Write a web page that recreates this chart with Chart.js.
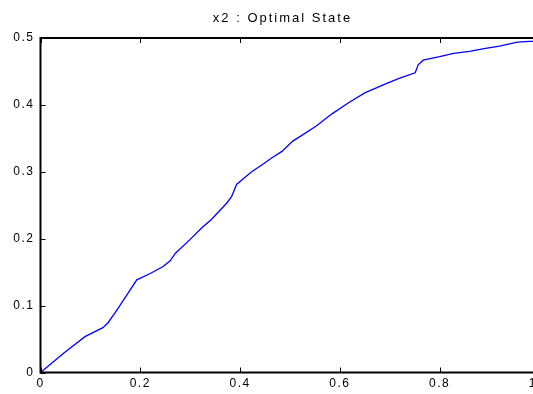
<!DOCTYPE html>
<html>
<head>
<meta charset="utf-8">
<script src="https://cdn.jsdelivr.net/npm/chart.js@4"></script>
<style>
  html, body { margin: 0; padding: 0; background: #fff; overflow: hidden; }
  #wrap { width: 554px; height: 394px; }
</style>
</head>
<body>
<div id="wrap"><canvas id="x2chart" width="554" height="394"></canvas></div>
<script>
// x2 optimal state
const timeValues = [0, 0.05, 0.09, 0.125, 0.135, 0.15, 0.167, 0.193, 0.22, 0.245, 0.26, 0.27, 0.3, 0.323, 0.343, 0.373, 0.383, 0.393, 0.41, 0.424, 0.445, 0.464, 0.484, 0.505, 0.523, 0.552, 0.585, 0.619, 0.65, 0.687, 0.72, 0.751, 0.757, 0.767, 0.8, 0.828, 0.86, 0.889, 0.92, 0.956, 0.98, 1.0];
const stateValues = [0, 0.031, 0.054, 0.067, 0.074, 0.09, 0.109, 0.1385, 0.148, 0.158, 0.167, 0.178, 0.199, 0.216, 0.229, 0.253, 0.263, 0.281, 0.292, 0.3006, 0.311, 0.321, 0.3305, 0.3455, 0.354, 0.368, 0.387, 0.404, 0.418, 0.43, 0.44, 0.448, 0.46, 0.4668, 0.472, 0.477, 0.48, 0.484, 0.488, 0.4937, 0.495, 0.495];
const xTicks = [0, 0.2, 0.4, 0.6, 0.8, 1];
const yTicks = [0, 0.1, 0.2, 0.3, 0.4, 0.5];
const chartTitle = "x2 : Optimal State";

const colors = {
  line: "rgb(0, 0, 255)",
  frame: "rgb(0, 0, 0)",
  text: "rgb(0, 0, 0)",
};

// matlab style spaced text
const spacedText = {
  id: "spacedText",
  beforeUpdate: (chart) => { chart.ctx.letterSpacing = "1.5px"; },
  afterLayout: (chart) => {
    const t = chart.titleBlock;
    if (!t) return;
    if (!t._spaced) {
      const orig = t.draw.bind(t);
      t.draw = () => {
        chart.ctx.letterSpacing = "2px";
        orig();
        chart.ctx.letterSpacing = "1.5px";
      };
      t._spaced = true;
    }
    // title sits a bit left of the axes centre in the original
    t.left = 28;
    t.right = 537;
  },
  beforeDraw: (chart) => { chart.ctx.letterSpacing = "1.5px"; },
};

// box round the axes with ticks pointing inwards on all four sides
const matlabFrame = {
  id: "matlabFrame",
  afterDraw: (chart) => {
    const ctx = chart.ctx;
    const area = chart.chartArea;
    const xs = chart.scales.x;
    const ys = chart.scales.y;
    const len = 5;
    ctx.save();
    ctx.strokeStyle = colors.frame;
    ctx.lineWidth = 1;
    ctx.beginPath();
    xTicks.forEach((v) => {
      const px = Math.round(xs.getPixelForValue(v)) + 0.5;
      ctx.moveTo(px, area.bottom);
      ctx.lineTo(px, area.bottom - len);
      ctx.moveTo(px, area.top);
      ctx.lineTo(px, area.top + len);
    });
    yTicks.forEach((v) => {
      const py = Math.round(ys.getPixelForValue(v)) + 0.5;
      ctx.moveTo(area.left, py);
      ctx.lineTo(area.left + len, py);
      ctx.moveTo(area.right, py);
      ctx.lineTo(area.right - len, py);
    });
    ctx.stroke();
    ctx.lineWidth = 2;
    ctx.strokeRect(area.left, area.top, area.right - area.left, area.bottom - area.top);
    ctx.restore();
  },
};

const points = timeValues.map((t, i) => ({ x: t, y: stateValues[i] }));

const config = {
  type: "line",
  data: {
    datasets: [
      {
        label: "x2",
        data: points,
        borderColor: colors.line,
        borderWidth: 1.3,
        pointRadius: 0,
        tension: 0,
        fill: false,
      },
    ],
  },
  options: {
    responsive: false,
    animation: false,
    devicePixelRatio: 1,
    layout: {
      padding: { left: 0, right: 10, top: 0, bottom: 0 },
    },
    plugins: {
      legend: { display: false },
      tooltip: { enabled: false },
      title: {
        display: true,
        text: chartTitle,
        color: colors.text,
        font: { family: "'Liberation Sans', Arial, sans-serif", size: 13, weight: "normal", lineHeight: 1.2 },
        padding: { top: 10.2, bottom: 12.2 },
      },
    },
    scales: {
      x: {
        type: "linear",
        min: 0,
        max: 1,
        afterFit: (s) => { s.height = 21.5; },
        afterBuildTicks: (s) => { s.ticks = xTicks.map((v) => ({ value: v })); },
        grid: { display: false, drawTicks: false },
        border: { display: false },
        ticks: {
          color: colors.text,
          padding: 4,
          maxRotation: 0,
          autoSkip: false,
          font: { family: "'Liberation Sans', Arial, sans-serif", size: 12 },
        },
      },
      y: {
        type: "linear",
        min: 0,
        max: 0.5,
        afterFit: (s) => { s.width = 40.5; },
        afterBuildTicks: (s) => { s.ticks = yTicks.map((v) => ({ value: v })); },
        grid: { display: false, drawTicks: false },
        border: { display: false },
        ticks: {
          color: colors.text,
          padding: 6,
          autoSkip: false,
          font: { family: "'Liberation Sans', Arial, sans-serif", size: 12 },
        },
      },
    },
  },
  plugins: [spacedText, matlabFrame],
};

new Chart(document.getElementById("x2chart"), config);
</script>
</body>
</html>
